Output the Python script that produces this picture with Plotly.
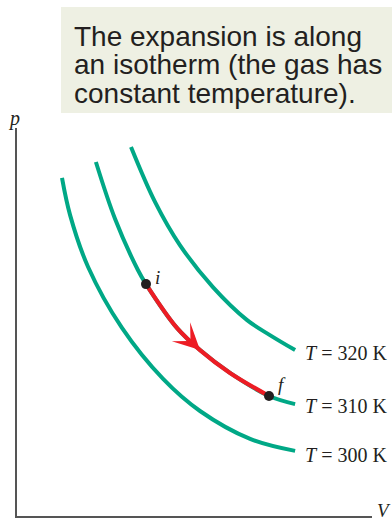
import plotly.graph_objects as go

# ---- data (arbitrary units) ----
temps = ["320", "310", "300"]
V300 = [1.50, 1.77, 2.37, 3.50, 4.87, 6.10, 7.77, 9.27]
p300 = [11.27, 10.03, 8.30, 6.27, 4.57, 3.50, 2.57, 2.17]
V310 = [2.63, 3.27, 4.03, 4.30, 5.33, 6.10, 7.10, 8.40, 9.27]
p310 = [11.80, 9.90, 8.20, 7.73, 6.27, 5.53, 4.77, 4.00, 3.73]
V320 = [3.80, 4.60, 5.43, 6.53, 7.67, 8.43, 9.27]
p320 = [12.30, 10.47, 9.03, 7.63, 6.53, 6.03, 5.53]
i_idx, arrow_idx, f_idx = 3, 5, 7
box_lines = ["The expansion is along", "an isotherm (the gas has", "constant temperature)."]
x_max, y_max = 11.833, 12.933

GREEN = "#00a886"
RED = "#ed1c24"
DARK = "#231f20"
AXIS = "#555555"

W, H = 392, 521
L, R, T, B = 17, 20, 128, 5


def px(x):
    return (x - L) / (W - L - R)


def py(y):
    return (H - B - y) / (H - T - B)


fig = go.Figure()
for V, p in [(V300, p300), (V310, p310), (V320, p320)]:
    fig.add_trace(go.Scatter(x=V, y=p, mode="lines",
                             line=dict(color=GREEN, width=4, shape="spline"),
                             hoverinfo="skip", showlegend=False))

# red process segment i -> f
fig.add_trace(go.Scatter(x=V310[i_idx:f_idx + 1], y=p310[i_idx:f_idx + 1], mode="lines",
                         line=dict(color=RED, width=4.2, shape="spline"),
                         hoverinfo="skip", showlegend=False))
# end points
fig.add_trace(go.Scatter(x=[V310[i_idx], V310[f_idx]], y=[p310[i_idx], p310[f_idx]],
                         mode="markers", marker=dict(color=DARK, size=10),
                         hoverinfo="skip", showlegend=False))

serif = "Liberation Serif"
ann = []
# arrowhead along the process path
ann.append(dict(x=V310[arrow_idx], y=p310[arrow_idx], xref="x", yref="y",
                ax=V310[arrow_idx - 1], ay=p310[arrow_idx - 1], axref="x", ayref="y",
                text="", showarrow=True, arrowhead=3, arrowsize=2.2, arrowwidth=2,
                arrowcolor=RED, standoff=0))
ann.append(dict(x=V310[i_idx], y=p310[i_idx], xref="x", yref="y", text="<i>i</i>",
                showarrow=False, xshift=11, yshift=7, font=dict(family=serif, size=19, color=DARK)))
ann.append(dict(x=V310[f_idx], y=p310[f_idx], xref="x", yref="y", text="<i>f</i>",
                showarrow=False, xshift=13, yshift=12, font=dict(family=serif, size=19, color=DARK)))
for t, V, p, ys in [(temps[0], V320, p320, -3), (temps[1], V310, p310, -2), (temps[2], V300, p300, -4)]:
    ann.append(dict(x=V[-1], y=p[-1], xref="x", yref="y", text=f"<i>T</i> = {t} K",
                    showarrow=False, xanchor="left", yanchor="middle", xshift=8, yshift=ys,
                    font=dict(family=serif, size=20, color=DARK)))
ann.append(dict(x=px(14), y=py(118), xref="paper", yref="paper", text="<i>p</i>",
                showarrow=False, xanchor="center", yanchor="middle",
                font=dict(family=serif, size=20, color=DARK)))
ann.append(dict(x=px(384), y=py(521), xref="paper", yref="paper", text="<i>V</i>",
                showarrow=False, xanchor="center", yanchor="bottom", yshift=-2,
                font=dict(family=serif, size=19, color=DARK)))
for k, line in enumerate(box_lines):
    ann.append(dict(x=px(72), y=py(37 + 28 * k), xref="paper", yref="paper", text=line,
                    showarrow=False, xanchor="left", yanchor="middle",
                    font=dict(family="Liberation Sans", size=28, color=DARK)))

fig.update_layout(
    width=W, height=H, margin=dict(l=L, r=R, t=T, b=B),
    paper_bgcolor="white", plot_bgcolor="white",
    xaxis=dict(range=[0, x_max], showline=True, linecolor=AXIS, linewidth=2,
               showticklabels=False, ticks="", showgrid=False, zeroline=False),
    yaxis=dict(range=[0, y_max], showline=True, linecolor=AXIS, linewidth=2,
               showticklabels=False, ticks="", showgrid=False, zeroline=False),
    shapes=[dict(type="rect", xref="paper", yref="paper", x0=px(61), x1=px(392),
                 y0=py(113), y1=py(7), fillcolor="#eef0e3", line=dict(width=0), layer="below")],
    annotations=ann,
)
fig.write_html("out.html", config={"displayModeBar": False},
               post_script="document.body.style.margin='0px';")
